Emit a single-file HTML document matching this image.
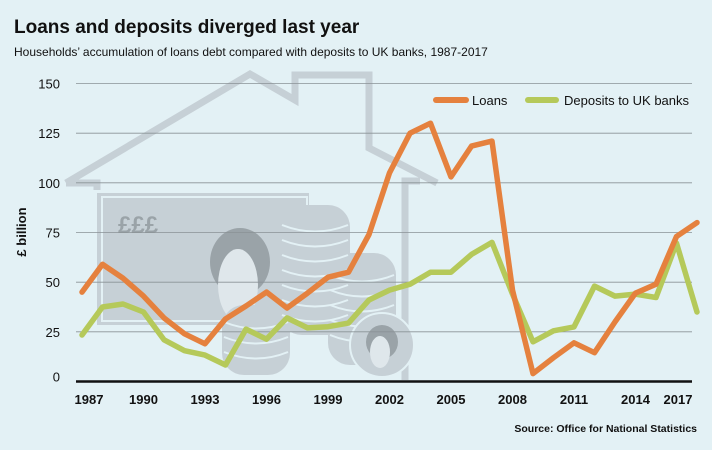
<!DOCTYPE html>
<html><head><meta charset="utf-8">
<style>
body{margin:0;background:#e3f1f5;}
svg{display:block;font-family:"Liberation Sans",sans-serif;}
</style></head>
<body>
<svg width="712" height="450" viewBox="0 0 712 450" xmlns="http://www.w3.org/2000/svg">
<rect width="712" height="450" fill="#e3f1f5"/>
<text x="14" y="33" font-size="19" font-weight="bold" fill="#111">Loans and deposits diverged last year</text>
<text x="14" y="56" font-size="12" fill="#111">Households’ accumulation of loans debt compared with deposits to UK banks, 1987-2017</text>
<g fill="#c6d0d6" stroke="none">
  <polyline points="66,183 250,74 295,100 295,75 369,75 369,148 437,183" fill="none" stroke="#c6d0d6" stroke-width="7"/>
  <polyline points="66,183 97,183 97,190" fill="none" stroke="#c6d0d6" stroke-width="7"/>
  <polyline points="405,380 405,181 420,181" fill="none" stroke="#c6d0d6" stroke-width="7"/>
  <rect x="97" y="193" width="212" height="132"/>
  <rect x="102" y="197" width="205" height="124" fill="none" stroke="#e3f1f5" stroke-width="2"/>
  <text x="118" y="233" font-size="24" font-weight="bold" fill="#9aa3a8">£££</text>
  <ellipse cx="240" cy="262" rx="30" ry="34" fill="#9aa3a8"/>
  <ellipse cx="238" cy="285" rx="20" ry="36" fill="#dfe7eb"/>
  <rect x="222" y="305" width="68" height="70" rx="22"/>
  <rect x="280" y="205" width="70" height="130" rx="22"/>
  <rect x="328" y="253" width="68" height="112" rx="22"/>
  <g stroke="#e3f1f5" stroke-width="2" fill="none">
    <path d="M282 225 Q315 238 348 225 M282 240 Q315 253 348 240 M282 255 Q315 268 348 255 M282 270 Q315 283 348 270 M282 285 Q315 298 348 285 M282 300 Q315 313 348 300 M282 315 Q315 328 348 315"/>
    <path d="M330 275 Q362 288 394 275 M330 290 Q362 303 394 290 M330 305 Q362 318 394 305 M330 320 Q362 333 394 320 M330 335 Q362 348 394 335"/>
    <path d="M224 322 Q256 335 288 322 M224 337 Q256 350 288 337 M224 352 Q256 365 288 352"/>
  </g>
  <circle cx="382" cy="345" r="32" stroke="#e3f1f5" stroke-width="2"/>
  <ellipse cx="382" cy="342" rx="16" ry="17" fill="#9aa3a8"/>
  <ellipse cx="380" cy="352" rx="10" ry="16" fill="#dfe7eb"/>
</g>
<g id="grid"></g>
<g id="yticks"></g>
<g id="xticks"></g>
<line x1="76" y1="381.5" x2="692" y2="381.5" stroke="#111" stroke-width="2.5"/>
<text transform="translate(26,232) rotate(-90)" text-anchor="middle" font-size="13" font-weight="bold" fill="#111">£ billion</text>
<g id="series"></g>
<g>
  <g><line x1="436" y1="100" x2="466" y2="100" stroke="#e5813e" stroke-width="6" stroke-linecap="round"/><text x="472" y="105" font-size="13" fill="#111">Loans</text></g>
  <g><line x1="528" y1="100" x2="556" y2="100" stroke="#b5c95a" stroke-width="6" stroke-linecap="round"/><text x="564" y="105" font-size="13" fill="#111">Deposits to UK banks</text></g>
</g>
<text x="697" y="432" text-anchor="end" font-size="10.5" font-weight="bold" fill="#111">Source: Office for National Statistics</text>
</svg>
<script>
const years = [1987,1988,1989,1990,1991,1992,1993,1994,1995,1996,1997,1998,1999,2000,2001,2002,2003,2004,2005,2006,2007,2008,2009,2010,2011,2012,2013,2014,2015,2016,2017];
const loans = [45,59,52,43,32,24,19,31.5,38,45,37,44.5,52.5,55,74,105,125,130,103,118.5,121,46,4,12,19.5,14.5,30,44.5,49,73,80];
const deposits = [23.4,37.5,39,35,21,15.5,13.3,8.3,26.4,21.3,32,27,27.6,29.4,41,46,49,55,55,64,70,44,20,25.5,27.5,48,43,44,42.3,69.6,35];
const yTicks = [0,25,50,75,100,125,150];
const xTickYears = [1987,1990,1993,1996,1999,2002,2005,2008,2011,2014,2017];
const NS = "http://www.w3.org/2000/svg";
function xs(yr){return 82 + (yr-1987)*20.5;}
function ys(v){return 381.5 - v*(298/150);}
const grid=document.getElementById('grid'), yt=document.getElementById('yticks'), xt=document.getElementById('xticks'), ser=document.getElementById('series');
yTicks.forEach(t=>{
  if(t>0){
    const l=document.createElementNS(NS,'line');
    
    
    l.setAttribute('x1',76);l.setAttribute('x2',692);l.setAttribute('y1',ys(t));l.setAttribute('y2',ys(t));
    l.setAttribute('stroke','#8a9296');l.setAttribute('stroke-width','0.8');
    grid.appendChild(l);
  }
  const tx=document.createElementNS(NS,'text');
  
  
  tx.setAttribute('x',60);tx.setAttribute('y',ys(t)+(t===0?0:5));
  tx.setAttribute('text-anchor','end');tx.setAttribute('font-size','13');tx.setAttribute('fill','#111');
  tx.textContent=t;yt.appendChild(tx);
});
xTickYears.forEach(yr=>{
  const tx=document.createElementNS(NS,'text');
  
  
  let x=xs(yr); if(x<89)x=89; if(x>678)x=678;
  tx.setAttribute('x',x);tx.setAttribute('y',404);
  tx.setAttribute('text-anchor','middle');tx.setAttribute('font-size','13');tx.setAttribute('font-weight','bold');tx.setAttribute('fill','#111');
  tx.textContent=yr;xt.appendChild(tx);
});
function drawLine(vals,color,name){
  const p=document.createElementNS(NS,'polyline');
  
  
  p.setAttribute('points',vals.map((v,i)=>xs(years[i]).toFixed(1)+','+ys(v).toFixed(1)).join(' '));
  p.setAttribute('fill','none');p.setAttribute('stroke',color);p.setAttribute('stroke-width','5.5');
  p.setAttribute('stroke-linejoin','round');p.setAttribute('stroke-linecap','round');
  ser.appendChild(p);
}
drawLine(deposits,'#b5c95a','deposits-line');
drawLine(loans,'#e5813e','loans-line');
</script>
</body></html>
